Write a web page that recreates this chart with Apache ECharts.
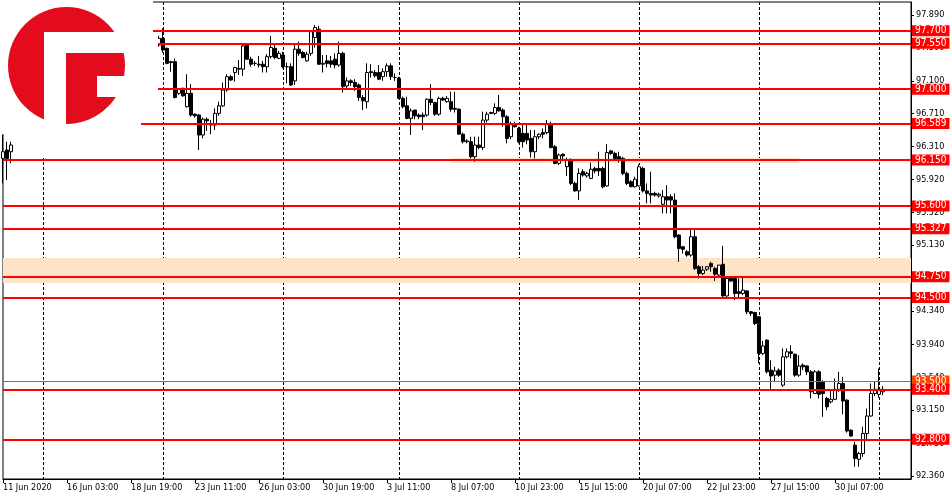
<!DOCTYPE html>
<html>
<head>
<meta charset="utf-8">
<script src="https://cdn.jsdelivr.net/npm/echarts@6/dist/echarts.min.js"></script>
<style>html,body{margin:0;padding:0;background:#fff}#c{width:950px;height:500px}</style>
</head>
<body>
<div id="c"></div>
<script>
// ---- data ----
const barCount = 228; // slots on the time axis (incl. empty right margin)
const xTickLabels = ['11 Jun 2020','16 Jun 03:00','18 Jun 19:00','23 Jun 11:00','26 Jun 03:00','30 Jun 19:00','3 Jul 11:00','8 Jul 07:00','10 Jul 23:00','15 Jul 15:00','20 Jul 07:00','22 Jul 23:00','27 Jul 15:00','30 Jul 07:00'];
const xTickStep = 16;
const gridBars = [10, 40, 70, 99, 129, 159, 189, 219];
const yTickLabels = [97.89, 97.5, 97.1, 96.71, 96.31, 95.92, 95.52, 95.13, 94.73, 94.34, 93.94, 93.54, 93.15, 92.75, 92.36];
const hidden = Array(36).fill(null); // bars 3..38 are covered by the logo

const opens = [96.17,96.27,96.25, ...hidden,
97.53,97.61,97.49,97.33,97.33,96.95,97.01,96.79,96.95,96.70,96.69,96.45,96.64,96.59,96.57,96.71,96.80,96.99,97.15,97.20,
97.24,97.24,97.53,97.36,97.31,97.30,97.30,97.27,97.39,97.49,97.37,97.41,97.27,97.27,97.10,97.48,97.44,97.34,97.43,97.62,
97.72,97.30,97.34,97.34,97.36,97.29,97.43,97.04,97.10,97.08,97.05,96.90,96.85,97.21,97.20,97.20,97.15,97.21,97.28,97.14,
97.13,96.89,96.80,96.65,96.75,96.69,96.69,96.69,96.88,96.84,96.70,96.89,96.85,96.85,96.77,96.76,96.46,96.37,96.37,96.19,
96.33,96.30,96.63,96.72,96.71,96.78,96.75,96.67,96.43,96.58,96.53,96.47,96.47,96.41,96.25,96.43,96.48,96.48,96.58,96.31,
96.11,96.22,96.07,96.14,95.87,95.78,96.01,95.96,95.93,96.05,96.05,96.05,95.84,96.26,96.23,96.19,96.17,95.99,95.89,95.83,
95.84,96.05,95.78,95.75,95.75,95.72,95.62,95.71,95.71,95.67,95.25,95.11,95.05,95.01,95.23,94.87,94.79,94.84,94.91,94.85,
94.77,94.90,94.52,94.73,94.73,94.57,94.55,94.58,94.33,94.32,94.27,93.83,93.99,93.63,93.57,93.63,93.45,93.79,93.85,93.82,
93.57,93.69,93.68,93.61,93.35,93.61,93.49,93.29,93.25,93.28,93.40,93.47,93.27,92.91,92.73,92.56,92.63,92.87,93.08,93.35,
93.34,93.37];
const highs = [96.45,96.37,96.37, ...hidden,
97.64,97.73,97.50,97.34,97.37,97.01,97.02,97.18,97.06,96.71,96.70,96.66,96.66,96.63,96.77,96.85,97.08,97.18,97.17,97.27,
97.35,97.54,97.55,97.39,97.34,97.40,97.34,97.42,97.64,97.53,97.46,97.45,97.32,97.31,97.55,97.57,97.46,97.45,97.71,97.77,
97.76,97.41,97.41,97.40,97.43,97.57,97.45,97.14,97.12,97.12,97.07,96.93,97.31,97.30,97.23,97.29,97.25,97.31,97.31,97.19,
97.15,96.91,96.91,96.77,96.75,96.71,96.72,96.89,97.06,96.85,96.91,96.91,96.92,96.97,96.97,96.77,96.48,96.40,96.43,96.43,
96.43,96.73,96.73,96.73,96.83,96.93,96.77,96.69,96.61,96.61,96.55,96.57,96.57,96.51,96.51,96.47,96.53,96.63,96.61,96.33,
96.23,96.23,96.18,96.17,95.89,96.05,96.04,96.01,96.12,96.07,96.25,96.07,96.34,96.27,96.25,96.25,96.19,96.01,95.91,95.95,
96.10,96.07,95.87,96.01,95.77,95.76,95.79,95.85,95.74,95.75,95.26,95.12,95.07,95.31,95.33,94.89,94.88,94.88,94.93,94.87,
94.89,95.12,94.75,94.75,94.75,94.73,94.75,94.59,94.34,94.33,94.28,93.98,94.00,93.75,93.67,93.65,93.89,93.89,93.93,93.83,
93.81,93.71,93.69,93.63,93.63,93.63,93.51,93.31,93.39,93.53,93.61,93.55,93.28,92.92,92.77,92.65,92.95,93.17,93.47,93.49,
93.65,93.44];
const lows = [95.87,95.91,96.11, ...hidden,
97.51,97.44,97.30,97.21,96.89,96.93,96.91,96.78,96.67,96.66,96.27,96.41,96.50,96.46,96.51,96.68,96.79,96.97,97.10,97.09,
97.17,97.16,97.35,97.27,97.28,97.26,97.20,97.20,97.37,97.36,97.36,97.25,97.07,97.04,97.05,97.40,97.37,97.33,97.40,97.50,
97.29,97.20,97.26,97.26,97.25,97.27,96.96,97.00,97.04,96.98,96.86,96.75,96.77,97.14,97.14,97.11,97.10,97.15,97.11,97.10,
96.88,96.77,96.64,96.45,96.64,96.64,96.51,96.67,96.81,96.68,96.68,96.86,96.84,96.73,96.72,96.46,96.35,96.35,96.17,96.13,
96.28,96.27,96.60,96.70,96.69,96.73,96.55,96.35,96.40,96.54,96.35,96.30,96.34,96.18,96.17,96.40,96.41,96.46,96.29,96.10,
96.09,96.14,95.96,95.85,95.77,95.67,95.95,95.94,95.92,95.99,95.96,95.81,95.83,96.21,96.15,96.12,95.97,95.85,95.83,95.82,
95.83,95.76,95.63,95.63,95.71,95.70,95.51,95.51,95.51,95.21,94.93,95.03,94.99,94.99,94.83,94.73,94.77,94.82,94.81,94.70,
94.75,94.51,94.51,94.69,94.47,94.49,94.53,94.30,94.28,94.17,93.71,93.81,93.59,93.39,93.49,93.55,93.43,93.77,93.77,93.55,
93.55,93.63,93.57,93.29,93.35,93.29,93.07,93.15,93.23,93.27,93.37,93.10,92.88,92.83,92.47,92.47,92.59,92.79,93.07,93.32,
93.30,93.33];
const closes = [96.25,96.17,96.33, ...hidden,
97.61,97.47,97.31,97.32,96.90,97.00,96.92,96.95,96.69,96.68,96.45,96.64,96.62,96.57,96.71,96.80,96.99,97.15,97.11,97.26,
97.25,97.52,97.36,97.30,97.31,97.29,97.27,97.39,97.50,97.38,97.43,97.27,97.27,97.05,97.48,97.43,97.38,97.42,97.69,97.74,
97.30,97.31,97.31,97.30,97.29,97.43,97.03,97.10,97.08,97.03,96.90,96.86,97.20,97.20,97.16,97.12,97.21,97.28,97.15,97.14,
96.89,96.79,96.65,96.74,96.68,96.67,96.67,96.88,96.84,96.70,96.89,96.87,96.89,96.76,96.76,96.46,96.37,96.38,96.19,96.33,
96.30,96.63,96.70,96.71,96.78,96.74,96.67,96.41,96.58,96.55,96.37,96.37,96.39,96.25,96.43,96.46,96.46,96.58,96.30,96.11,
96.21,96.20,96.15,95.87,95.78,95.99,95.97,95.99,96.04,96.02,96.02,95.83,96.24,96.23,96.17,96.16,95.99,95.87,95.83,95.92,
96.07,95.78,95.75,95.73,95.73,95.74,95.71,95.67,95.67,95.23,95.09,95.08,95.01,95.23,94.85,94.79,94.83,94.87,94.87,94.78,
94.89,94.52,94.73,94.70,94.55,94.55,94.59,94.33,94.31,94.19,93.83,93.92,93.61,93.56,93.62,93.57,93.79,93.85,93.83,93.57,
93.68,93.67,93.61,93.37,93.61,93.34,93.35,93.19,93.28,93.40,93.47,93.26,92.90,92.84,92.57,92.63,92.87,93.08,93.35,93.40,
93.40,93.40];

const levelValues = [97.700, 97.550, 97.000, 96.589, 96.150, 95.600, 95.327, 94.750, 94.500, 93.500, 93.400, 92.800];
const levelColors = ['#ff0000','#ff0000','#ff0000','#ff0000','#ff0000','#ff0000','#ff0000','#ff0000','#ff0000','#ff4500','#ff0000','#ff0000'];
const levelWidths = [2,2,2,2,2,2,2,2,2,1,2,2];
const zoneWide = [94.675, 94.975];          // full-width shaded zone
const zoneNarrow = [96.115, 96.175];        // short shaded zone
const zoneNarrowBars = [112, 199];

// ---- build ----
const FONT = "'DejaVu Sans Condensed', 'DejaVu Sans', sans-serif";
const categories = Array.from({length: barCount}, (_, i) => String(i));
const candleData = categories.map((_, i) => opens[i] == null ? '-' : [opens[i], closes[i], lows[i], highs[i]]);
const lastBar = barCount - 1;

const markLines = levelValues.map((v, k) => {
  const s = {color: levelColors[k], width: levelWidths[k], type: 'solid'};
  return [
    {name: v.toFixed(3), coord: [0, v], lineStyle: s,
     label: {backgroundColor: levelColors[k]}},
    {coord: [lastBar, v]}
  ];
});

const chart = echarts.init(document.getElementById('c'), null, {renderer: 'canvas'});
chart.setOption({
  animation: false,
  backgroundColor: '#ffffff',
  textStyle: {fontFamily: FONT},
  grid: {left: 3, right: 39, top: 2, bottom: 21, show: true, borderColor: '#000', borderWidth: 1, backgroundColor: '#fff'},
  xAxis: {
    type: 'category', data: categories, boundaryGap: false,
    axisLine: {show: true, lineStyle: {color: '#000', width: 1}},
    axisTick: {show: true, interval: (i) => i % xTickStep === 0 && i / xTickStep < xTickLabels.length, length: 4, lineStyle: {color: '#000'}},
    axisLabel: {
      interval: (i) => i % xTickStep === 0 && i / xTickStep < xTickLabels.length,
      formatter: (val, idx) => xTickLabels[Math.round(Number(val) / xTickStep)] || '',
      align: 'left', margin: 4, color: '#000', fontSize: 9, fontFamily: FONT
    },
    splitLine: {show: true, interval: (i) => gridBars.indexOf(i) >= 0, lineStyle: {color: '#000', type: [3, 2], width: 1}}
  },
  yAxis: {
    type: 'value', position: 'right', min: 92.324, max: 98.046, scale: true,
    axisLine: {show: true, lineStyle: {color: '#000'}},
    axisTick: {show: true, customValues: yTickLabels, length: 3, lineStyle: {color: '#000'}},
    axisLabel: {customValues: yTickLabels, formatter: (v) => Number(v).toFixed(3), color: '#000', fontSize: 9, margin: 5, fontFamily: FONT},
    splitLine: {show: false}
  },
  series: [
    {
      type: 'line', data: [], silent: true, z: 1,
      markArea: {
        silent: true,
        data: [
          [{coord: [0, zoneWide[0]], itemStyle: {color: '#fde4c6'}}, {coord: [lastBar, zoneWide[1]]}],
          [{coord: [zoneNarrowBars[0], zoneNarrow[0]], itemStyle: {color: '#fde6cc'}}, {coord: [zoneNarrowBars[1], zoneNarrow[1]]}]
        ]
      }
    },
    {
      type: 'candlestick', data: candleData, barWidth: 3, z: 2,
      itemStyle: {color: '#ffffff', color0: '#000000', borderColor: '#000000', borderColor0: '#000000', borderWidth: 1}
    },
    {
      type: 'line', data: [], silent: true, z: 3,
      markLine: {
        silent: true, symbol: ['none', 'none'],
        label: {show: true, position: 'end', formatter: '{b}', color: '#fff', fontSize: 10, fontFamily: FONT,
                padding: [1, 3, 0, 3], distance: 1},
        data: markLines
      }
    }
  ],
  graphic: [
    {type: 'polygon', z: 100, silent: true,
     shape: {points: [[0,0],[137,0],[137,1],[153,1],[153,36],[158,36],[158,100],[141,100],[141,158],[14,158],[14,134],[0,134]]},
     style: {fill: '#ffffff'}},
    {type: 'circle', z: 101, silent: true, shape: {cx: 66.5, cy: 65.5, r: 58.5}, style: {fill: '#e30b1c'}},
    {type: 'rect', z: 102, silent: true, shape: {x: 44, y: 32, width: 22, height: 95}, style: {fill: '#ffffff'}},
    {type: 'rect', z: 102, silent: true, shape: {x: 44, y: 32, width: 82, height: 21}, style: {fill: '#ffffff'}},
    {type: 'rect', z: 102, silent: true, shape: {x: 97, y: 76, width: 30, height: 21}, style: {fill: '#ffffff'}}
  ]
});
</script>
</body>
</html>
